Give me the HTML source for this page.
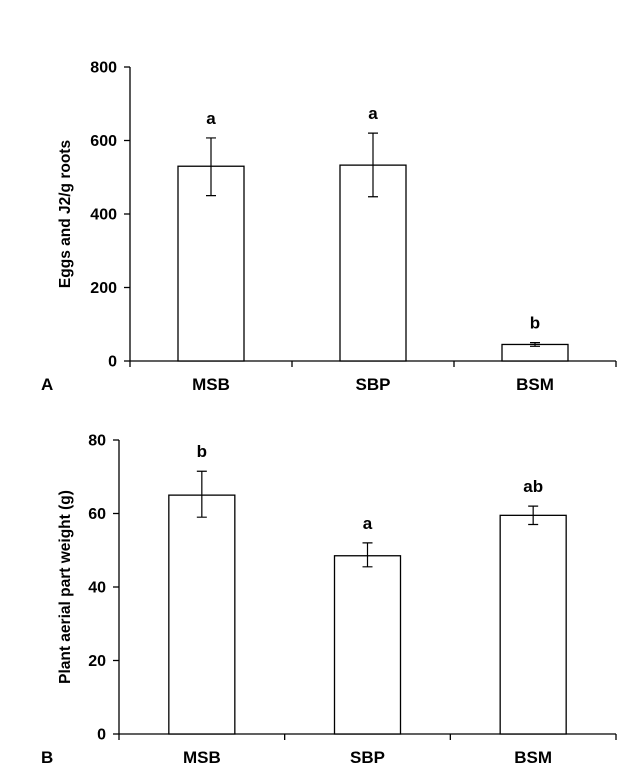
<!DOCTYPE html>
<html><head><meta charset="utf-8">
<style>
html,body{margin:0;padding:0;background:#fff;}
svg{display:block;font-family:"Liberation Sans",Arial,sans-serif;font-weight:bold;}
</style></head>
<body>
<svg id="chart" width="630" height="778" viewBox="0 0 630 778"></svg>
<script>
const categories = ["MSB","SBP","BSM"];
const valuesA = [530, 533, 45];
const errLowA = [450, 447, 40];
const errHighA = [607, 620, 50];
const lettersA = ["a","a","b"];
const ticksA = [0,200,400,600,800];
const valuesB = [65, 48.5, 59.5];
const errLowB = [59, 45.5, 57];
const errHighB = [71.5, 52, 62];
const lettersB = ["b","a","ab"];
const ticksB = [0,20,40,60,80];

const svg = document.getElementById('chart');
const NS = 'http://www.w3.org/2000/svg';
function mk(tag, attrs, parent){
  const e = document.createElementNS(NS, tag);
  for (const k in attrs) e.setAttribute(k, attrs[k]);
  (parent||svg).appendChild(e);
  return e;
}

function panel(cfg){
  const g = mk('g', {});
  
  
  const y = v => cfg.y0 - (v / cfg.max) * (cfg.y0 - cfg.yTop);
  const band = (cfg.x1 - cfg.x0) / categories.length;
  const xc = i => cfg.x0 + band * (i + 0.5);
  const ya = mk('line', {x1:cfg.x0, y1:cfg.yTop, x2:cfg.x0, y2:cfg.y0, stroke:'#000','stroke-width':1.3}, g);
  
  
  cfg.ticks.forEach(t => {
    mk('line', {x1:cfg.x0-6, y1:y(t), x2:cfg.x0, y2:y(t), stroke:'#000','stroke-width':1.3}, g);
    const tl = mk('text', {x:cfg.x0-13, y:y(t)+5.5, 'text-anchor':'end','font-size':16}, g);
    tl.textContent = t;
    
    
  });
  const xa = mk('line', {x1:cfg.x0, y1:cfg.y0, x2:cfg.x1, y2:cfg.y0, stroke:'#000','stroke-width':1.3}, g);
  
  
  for (let i=0;i<=categories.length;i++){
    mk('line', {x1:cfg.x0+band*i, y1:cfg.y0, x2:cfg.x0+band*i, y2:cfg.y0+6, stroke:'#000','stroke-width':1.3}, g);
  }
  categories.forEach((c,i) => {
    const bw = 66;
    const r = mk('rect', {x:xc(i)-bw/2, y:y(cfg.values[i]), width:bw, height:cfg.y0-y(cfg.values[i]), fill:'#fff', stroke:'#000','stroke-width':1.3}, g);
    
    
    const eb = mk('path', {d:`M${xc(i)} ${y(cfg.lo[i])}V${y(cfg.hi[i])}M${xc(i)-5} ${y(cfg.lo[i])}H${xc(i)+5}M${xc(i)-5} ${y(cfg.hi[i])}H${xc(i)+5}`, stroke:'#000','stroke-width':1.2, fill:'none'}, g);
    
    
    const lt = mk('text', {x:xc(i), y:y(cfg.hi[i])-14, 'text-anchor':'middle','font-size':17}, g);
    lt.textContent = cfg.letters[i];
    
    
    const cl = mk('text', {x:xc(i), y:cfg.y0+29, 'text-anchor':'middle','font-size':17}, g);
    cl.textContent = c;
    
    
  });
  const pl = mk('text', {x:cfg.labelX, y:cfg.y0+29, 'font-size':17}, g);
  pl.textContent = cfg.panel;
  
  
  const yc = (cfg.yTop + cfg.y0)/2;
  const yt = mk('text', {x:0, y:0, 'text-anchor':'middle','font-size':15.5, transform:`translate(${cfg.titleX},${yc}) rotate(-90)`}, g);
  yt.textContent = cfg.title;
  
  
}

panel({name:'chart-a', panel:'A', x0:130, x1:616, y0:361, yTop:67, max:800, ticks:ticksA,
  values:valuesA, lo:errLowA, hi:errHighA, letters:lettersA, labelX:41, titleX:70, title:'Eggs and J2/g roots'});
panel({name:'chart-b', panel:'B', x0:119, x1:616, y0:734, yTop:440, max:80, ticks:ticksB,
  values:valuesB, lo:errLowB, hi:errHighB, letters:lettersB, labelX:41, titleX:70, title:'Plant aerial part weight (g)'});
</script>
</body></html>
